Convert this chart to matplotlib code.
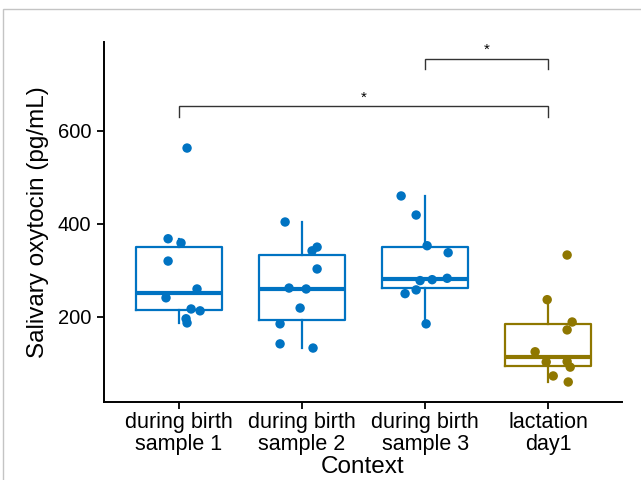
import matplotlib
matplotlib.use("Agg")
import matplotlib.pyplot as plt
from matplotlib.patches import Rectangle
import numpy as np

categories = ["during birth\nsample 1", "during birth\nsample 2", "during birth\nsample 3", "lactation\nday1"]
values_s1 = [563, 368, 359, 320, 260, 241, 217, 213, 196, 187]
values_s2 = [404, 350, 342, 303, 262, 260, 219, 185, 142, 133]
values_s3 = [460, 419, 353, 338, 278, 280, 283, 258, 250, 185]
values_l1 = [333, 237, 189, 172, 125, 103, 104, 92, 73, 60]
jitter_s1 = [0.065, -0.089, 0.016, -0.089, 0.146, -0.106, 0.098, 0.171, 0.057, 0.065]
jitter_s2 = [-0.138, 0.122, 0.081, 0.122, -0.106, 0.033, -0.016, -0.179, -0.179, 0.089]
jitter_s3 = [-0.195, -0.073, 0.016, 0.187, -0.041, 0.057, 0.179, -0.073, -0.163, 0.008]
jitter_l1 = [0.154, -0.008, 0.195, 0.154, -0.106, -0.016, 0.154, 0.179, 0.041, 0.163]
group_colors = ["#0073C2", "#0073C2", "#0073C2", "#8F7700"]
# significance comparisons (group index pairs), bracket heights, labels
comparisons = [(1, 4), (3, 4)]
bracket_y = [653, 755]
sig_labels = ["*", "*"]
yticks = [200, 400, 600]

plt.rcParams['font.family'] = ['Liberation Sans', 'DejaVu Sans']

fig = plt.figure(figsize=(6.41, 4.80), dpi=100)
ax = fig.add_axes([104/641, 1-402/480, (622-104)/641, (402-42)/480])

data = [values_s1, values_s2, values_s3, values_l1]
jitters = [jitter_s1, jitter_s2, jitter_s3, jitter_l1]
positions = np.arange(1, len(categories) + 1)

for i, (vals, col) in enumerate(zip(data, group_colors)):
    bp = ax.boxplot([vals], positions=[positions[i]], widths=0.7, whis=1.5,
                    showfliers=False, showcaps=False, patch_artist=False,
                    boxprops=dict(color=col, linewidth=1.6),
                    whiskerprops=dict(color=col, linewidth=1.6),
                    medianprops=dict(color=col, linewidth=3.0),
                    zorder=2)
    xs = positions[i] + np.array(jitters[i])
    ax.scatter(xs, vals, s=46, color=col, edgecolors='none', zorder=3)

# significance brackets
for (a, b), yb, lab in zip(comparisons, bracket_y, sig_labels):
    tick = 23
    ax.plot([a, a, b, b], [yb - tick, yb, yb, yb - tick], color='#333333', lw=1.0,
            solid_joinstyle='miter', zorder=2)
    ax.text((a + b) / 2, yb + 4, lab, ha='center', va='bottom', fontsize=11, color='black')

ax.set_xlim(0.39, 4.6)
ax.set_ylim(17, 791)
ax.set_xticks(positions)
ax.set_xticklabels(categories, fontsize=15.5, linespacing=1.1)
ax.set_yticks(yticks)
ax.set_yticklabels([str(t) for t in yticks], fontsize=14.5)
for s in ['top', 'right']:
    ax.spines[s].set_visible(False)
for s in ['left', 'bottom']:
    ax.spines[s].set_linewidth(1.4)
    ax.spines[s].set_color('black')
ax.tick_params(axis='both', length=5, width=1.3, colors='black', pad=2)
ax.tick_params(axis='y', pad=4)

ax.set_xlabel("Context", fontsize=17.5, va='center')
ax.xaxis.set_label_coords(0.5, (402 - 467) / 360)
ax.set_ylabel("Salivary oxytocin (pg/mL)", fontsize=17.5, va='center')
ax.yaxis.set_label_coords((38 - 104) / 518, 0.5)

# faint outer frame
fig.patches.append(Rectangle((3/641, -0.1), 1.2, 1 - 9/480 + 0.1, transform=fig.transFigure,
                             fill=False, edgecolor='#c4c4c4', lw=1.0))

fig.savefig("out.png", dpi=100)
